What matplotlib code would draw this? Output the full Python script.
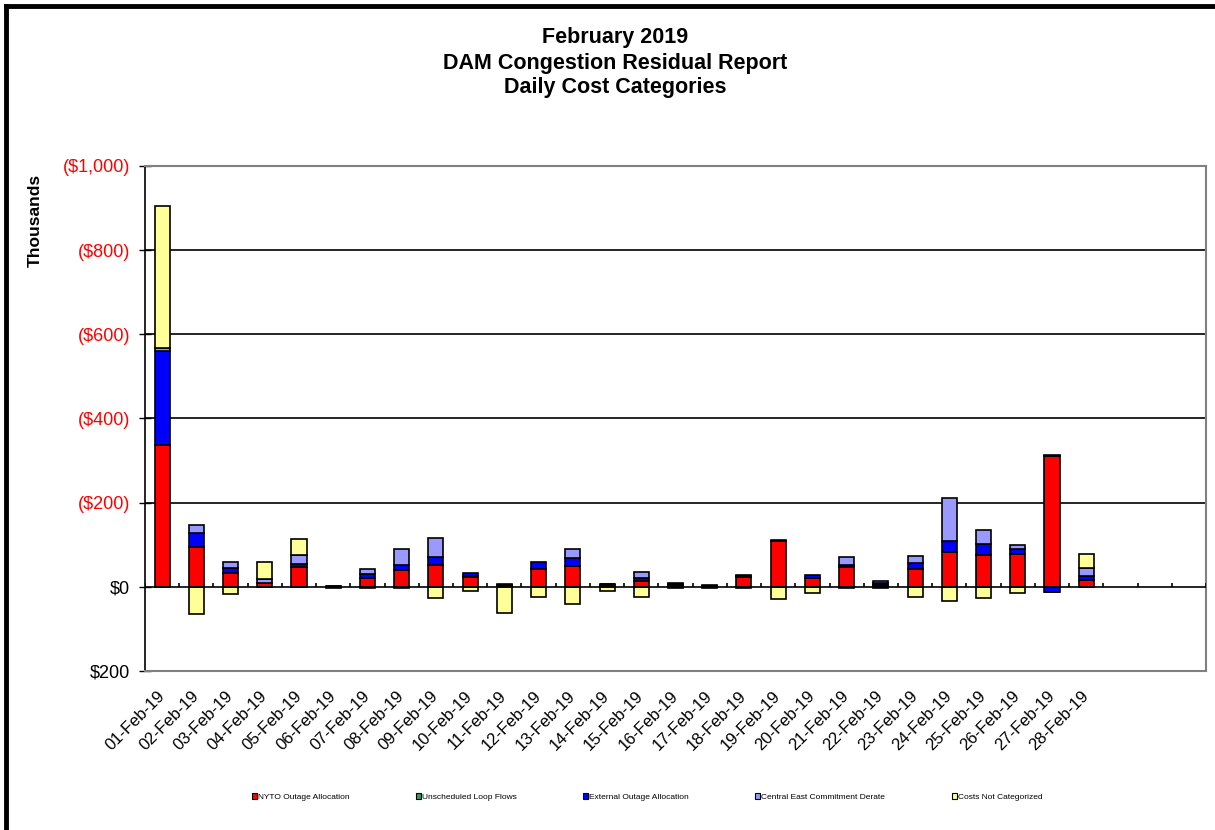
import numpy as np
import matplotlib
matplotlib.use("Agg")
import matplotlib.pyplot as plt
from matplotlib.lines import Line2D

plt.rcParams['font.family'] = ['Liberation Sans', 'DejaVu Sans']

dates = ['01-Feb-19', '02-Feb-19', '03-Feb-19', '04-Feb-19', '05-Feb-19', '06-Feb-19',
         '07-Feb-19', '08-Feb-19', '09-Feb-19', '10-Feb-19', '11-Feb-19', '12-Feb-19',
         '13-Feb-19', '14-Feb-19', '15-Feb-19', '16-Feb-19', '17-Feb-19', '18-Feb-19',
         '19-Feb-19', '20-Feb-19', '21-Feb-19', '22-Feb-19', '23-Feb-19', '24-Feb-19',
         '25-Feb-19', '26-Feb-19', '27-Feb-19', '28-Feb-19']
n_slots = 31  # category axis has 31 day slots

# values in $ thousands (negative = cost, drawn upward on the reversed axis)
nyto = [-336, -95, -33, -8, -47, -2, -21, -40, -53, -24, -2, -43, -50, -4,
        -13, -4, -2, -24, -108, -20, -47, -5, -43, -82, -76, -78, -311, -17]
unscheduled = [-2, 0, 0, 0, 0, -1, 0, 0, 0, -2, -2, 0, 0, -2,
               0, -2, -1, -2, -2, 0, 0, 0, 0, 0, 0, 0, -2, 0]
external = [-223, -33, -11, -2, -8, 0, -10, -11, -17, -6, -2, -15, -18, -1,
            -7, -2, -1, -2, -2, -8, -6, -3, -14, -26, -26, -11, 13, -8]
central_east = [-7, -20, -14, -9, -21, 0, -11, -39, -45, 0, 0, 0, -21, 0,
                -15, 0, 0, 0, 0, 0, -17, -6, -16, -103, -33, -10, 0, -19]
not_categorized = [-338, 65, 18, -39, -37, 2, 2, 2, 27, 10, 62, 24, 40, 10,
                   24, 3, 3, 2, 30, 14, 2, 2, 23, 33, 27, 15, 0, -33]

series = [
    ('NYTO Outage Allocation', nyto, '#FF0000'),
    ('Unscheduled Loop Flows', unscheduled, '#339966'),
    ('External Outage Allocation', external, '#0000FF'),
    ('Central East Commitment Derate', central_east, '#9999FF'),
    ('Costs Not Categorized', not_categorized, '#FFFF99'),
]

fig = plt.figure(figsize=(12.15, 8.3), dpi=100)
ax = fig.add_axes([145/1215, 1-671/830, (1206-145)/1215, (671-166)/830])

x = np.arange(len(dates))
pos_base = np.zeros(len(dates))
neg_base = np.zeros(len(dates))
for name, vals, col in series:
    v = np.array(vals, dtype=float)
    bottom = np.where(v >= 0, pos_base, neg_base)
    ax.bar(x, v, width=0.44, bottom=bottom, color=col, edgecolor='black',
           linewidth=1.2, label=name, zorder=3)
    pos_base += np.where(v >= 0, v, 0)
    neg_base += np.where(v < 0, v, 0)

ax.set_xlim(-0.5, n_slots - 0.5)
ax.set_ylim(200, -1000)

yticks = [-1000, -800, -600, -400, -200, 0, 200]
ylabels = []
for t in yticks:
    if t < 0:
        ylabels.append('(${:,})'.format(-t))
    else:
        ylabels.append('${:,}'.format(t))
ax.set_yticks(yticks)
ax.set_yticklabels(ylabels, fontsize=13)
for lbl, t in zip(ax.get_yticklabels(), yticks):
    lbl.set_color('#FF0000' if t < 0 else 'black')
ax.tick_params(axis='y', direction='inout', length=9, width=1, pad=6)

ax.set_xticks(x)
ax.set_xticklabels(dates, rotation=45, ha='right', va='center', rotation_mode='anchor',
                   fontsize=12)
ax.tick_params(axis='x', length=0, pad=16)

for g in [-800, -600, -400, -200]:
    ax.axhline(g, color='black', linewidth=1.2, zorder=1)
ax.axhline(0, color='black', linewidth=1.2, zorder=4)
ax.vlines(np.arange(n_slots + 1) - 0.5, 0, -10, color='black', linewidth=1.2, zorder=4)

for s in ['top', 'right', 'bottom']:
    ax.spines[s].set_color('#808080')
    ax.spines[s].set_linewidth(1.5)
ax.spines['left'].set_color('black')
ax.spines['left'].set_linewidth(1.2)

fig.text(35/1215, 1-220/830, 'Thousands', rotation=90, ha='center', va='center',
         fontsize=12.5, fontweight='bold')

fig.text(615/1215, 1-38/830, 'February 2019', ha='center', va='center', fontsize=15.5, fontweight='bold')
fig.text(615/1215, 1-63/830, 'DAM Congestion Residual Report', ha='center', va='center', fontsize=15.5, fontweight='bold')
fig.text(615/1215, 1-88/830, 'Daily Cost Categories', ha='center', va='center', fontsize=15.5, fontweight='bold')

leg = fig.legend(loc='center', bbox_to_anchor=(647/1215, 1-797/830), ncol=5, fontsize=6,
                 frameon=False, handlelength=0.6, handleheight=0.6, handletextpad=0.1,
                 columnspacing=8.0)
for h in leg.legend_handles:
    h.set_linewidth(0.8)

fig.add_artist(Line2D([6/1215, 6/1215], [0, 1-6/830], color='black', linewidth=3.5,
                      transform=fig.transFigure))
fig.add_artist(Line2D([6/1215, 1213/1215], [1-6/830, 1-6/830], color='black', linewidth=3.5,
                      transform=fig.transFigure))

fig.savefig('out.png', dpi=100)
